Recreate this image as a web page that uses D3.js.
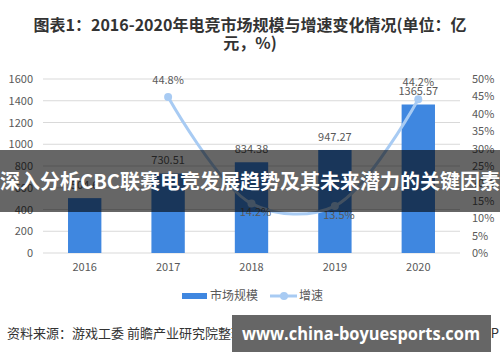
<!DOCTYPE html>
<html><head><meta charset="utf-8">
<script src="https://cdn.jsdelivr.net/npm/d3@7/dist/d3.min.js"></script>
<style>body{margin:0;background:#fff}svg{display:block}</style>
</head><body><svg id="c" width="500" height="362"></svg>
<script>
const years = ["2016","2017","2018","2019","2020"];
const marketSize = [504.6, 730.51, 834.38, 947.27, 1365.57];
const growthYears = ["2017","2018","2019","2020"];
const growth = [44.8, 14.2, 13.5, 44.2];
const leftTicks = [0,200,400,600,800,1000,1200,1400,1600];
const rightTicks = [0,5,10,15,20,25,30,35,40,45,50];
const titleLines = ["图表1：2016-2020年电竞市场规模与增速变化情况(单位：亿","元，%)"];
const legendLabels = ["市场规模","增速"];
const sourceText = "资料来源：游戏工委 前瞻产业研究院整理";
const creditText = "@前瞻经济学人APP";
const bannerText = "深入分析CBC联赛电竞发展趋势及其未来潜力的关键因素";
const siteText = "www.china-boyuesports.com";

const svg = d3.select("#c");
const font = "'Noto Sans CJK SC','Noto Sans',sans-serif";
const barColor = "#3f87e0", lineColor = "#a8cbf3", txt = "#595959";

const x = d3.scaleBand().domain(years).range([43,460]).paddingInner(0.6).paddingOuter(0.3);
const yL = d3.scaleLinear().domain([0,1600]).range([253,79]);
const yR = d3.scaleLinear().domain([0,50]).range([253,79]);

// title
svg.append("g").selectAll("text").data(titleLines).join("text")
  .attr("x",250).attr("y",(d,i)=>25+i*18).attr("dy","0.35em")
  .attr("text-anchor","middle").attr("font-family",font).attr("font-weight","bold")
  .attr("font-size",16).attr("fill","#333").text(d=>d);

// gridlines
svg.append("g").selectAll("line").data(leftTicks).join("line")
  .attr("x1",43).attr("x2",460).attr("y1",d=>yL(d)).attr("y2",d=>yL(d))
  .attr("stroke","#d9d9d9").attr("stroke-width",1);

// left axis
const axL = svg.append("g").attr("transform","translate(43,0)")
  .call(d3.axisLeft(yL).tickValues(leftTicks).tickSize(0).tickPadding(10).tickFormat(d3.format("d")));
axL.select(".domain").remove();
axL.selectAll("text").attr("font-family",font).attr("font-size",11).attr("fill",txt);

// right axis
const axR = svg.append("g").attr("transform","translate(460,0)")
  .call(d3.axisRight(yR).tickValues(rightTicks).tickSize(0).tickPadding(12).tickFormat(d=>d+"%"));
axR.select(".domain").remove();
axR.selectAll("text").attr("font-family",font).attr("font-size",11).attr("fill",txt);

// x axis
const axX = svg.append("g").attr("transform","translate(0,253)")
  .call(d3.axisBottom(x).tickSize(0).tickPadding(10));
axX.select(".domain").remove();
axX.selectAll("text").attr("font-family",font).attr("font-size",11).attr("fill",txt);

// bars
svg.append("g").selectAll("rect").data(years).join("rect")
  .attr("x",d=>x(d)).attr("width",x.bandwidth())
  .attr("y",(d,i)=>yL(marketSize[i])).attr("height",(d,i)=>yL(0)-yL(marketSize[i]))
  .attr("fill",barColor);
svg.append("g").selectAll("text").data(years).join("text")
  .attr("x",d=>x(d)+x.bandwidth()/2).attr("y",(d,i)=>yL(marketSize[i])-13).attr("dy","0.35em")
  .attr("text-anchor","middle").attr("font-family",font).attr("font-size",11).attr("fill",txt)
  .text((d,i)=>marketSize[i]);

// growth line
const cx = d=>x(d)+x.bandwidth()/2;
const line = d3.line().x(d=>cx(d[0])).y(d=>yR(d[1])).curve(d3.curveCatmullRom.alpha(0.5));
const pts = growthYears.map((d,i)=>[d,growth[i]]);
svg.append("path").datum(pts).attr("d",line).attr("fill","none")
  .attr("stroke",lineColor).attr("stroke-width",3);
svg.append("g").selectAll("circle").data(pts).join("circle")
  .attr("cx",d=>cx(d[0])).attr("cy",d=>yR(d[1])).attr("r",4).attr("fill",lineColor);
svg.append("g").selectAll("text").data(pts).join("text")
  .attr("x",d=>cx(d[0])+(d[1]<30?4:0)).attr("y",d=>yR(d[1])+(d[1]<30?9:-17)).attr("dy","0.35em")
  .attr("text-anchor","middle").attr("font-family",font).attr("font-size",11).attr("fill",txt)
  .text(d=>d[1].toFixed(1)+"%");

// legend
const lg = svg.append("g");
lg.append("rect").attr("x",182).attr("y",293).attr("width",25).attr("height",6).attr("fill",barColor);
lg.append("line").attr("x1",270).attr("x2",297).attr("y1",296).attr("y2",296).attr("stroke",lineColor).attr("stroke-width",3);
lg.append("circle").attr("cx",284).attr("cy",296).attr("r",4).attr("fill",lineColor);
lg.selectAll("text").data(legendLabels).join("text")
  .attr("x",(d,i)=>i?299:210).attr("y",296).attr("dy","0.35em")
  .attr("font-family",font).attr("font-size",12).attr("fill",txt).text(d=>d);

// source
svg.append("text").attr("x",7).attr("y",333).attr("dy","0.35em").attr("font-family",font)
  .attr("font-size",13).attr("fill","#333").text(sourceText);
svg.append("text").attr("x",499).attr("y",333).attr("dy","0.35em").attr("text-anchor","end").attr("font-family",font)
  .attr("font-size",13).attr("fill","#333").text(creditText);

// overlay banner
svg.append("rect").attr("x",0).attr("y",150).attr("width",500).attr("height",62).attr("fill","rgba(0,0,0,0.6)");
svg.append("text").attr("x",250).attr("y",182).attr("dy","0.35em").attr("text-anchor","middle")
  .attr("font-family",font).attr("font-weight","bold").attr("font-size",20).attr("fill","#fff").text(bannerText);

// site banner
svg.append("rect").attr("x",232).attr("y",315).attr("width",259).attr("height",37).attr("fill","#666");
svg.append("text").attr("x",242).attr("y",334).attr("dy","0.35em")
  .attr("font-family","'Open Sans',sans-serif").attr("font-weight","bold").attr("font-size",17)
  .attr("textLength",238).attr("lengthAdjust","spacingAndGlyphs").attr("fill","#fff").text(siteText);
</script></body></html>
